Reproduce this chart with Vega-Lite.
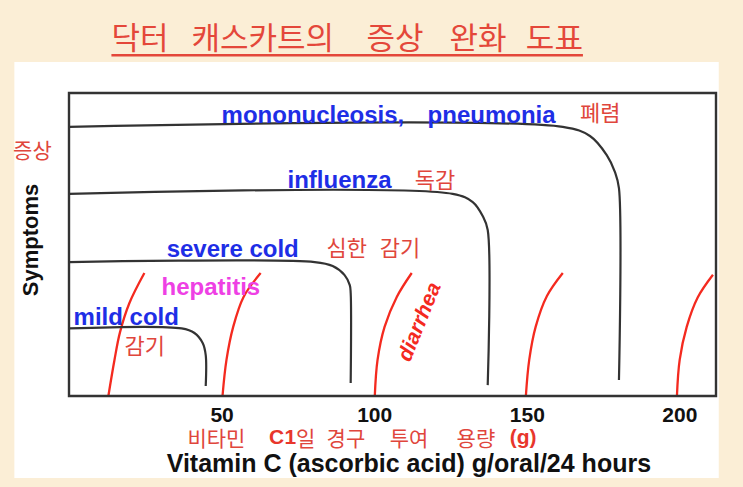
{
  "$schema": "https://vega.github.io/schema/vega-lite/v6.json",
  "width": 647,
  "height": 303,
  "autosize": {"type": "none"},
  "padding": {"left": 69, "top": 93, "right": 27, "bottom": 91},
  "background": "#FBEED6",
  "config": {"view": {"stroke": null}, "font": "Liberation Sans"},
  "datasets": {
    "lines": [
      {"series": "mono", "kind": "black", "o": 1, "x": 0, "y": 88.8},
      {"series": "mono", "kind": "black", "o": 2, "x": 161.8, "y": 88.8},
      {"series": "mono", "kind": "black", "o": 3, "x": 170.7, "y": 85.8},
      {"series": "mono", "kind": "black", "o": 4, "x": 176.2, "y": 79.5},
      {"series": "mono", "kind": "black", "o": 5, "x": 178.9, "y": 73.9},
      {"series": "mono", "kind": "black", "o": 6, "x": 180.2, "y": 68.6},
      {"series": "mono", "kind": "black", "o": 7, "x": 180.2, "y": 5.3},
      {"series": "flu", "kind": "black", "o": 1, "x": 0, "y": 66.7},
      {"series": "flu", "kind": "black", "o": 2, "x": 125.7, "y": 66.7},
      {"series": "flu", "kind": "black", "o": 3, "x": 132.3, "y": 64.0},
      {"series": "flu", "kind": "black", "o": 4, "x": 135.6, "y": 59.3},
      {"series": "flu", "kind": "black", "o": 5, "x": 137.2, "y": 54.8},
      {"series": "flu", "kind": "black", "o": 6, "x": 137.2, "y": 3.6},
      {"series": "severe", "kind": "black", "o": 1, "x": 0, "y": 44.2},
      {"series": "severe", "kind": "black", "o": 2, "x": 80.5, "y": 44.2},
      {"series": "severe", "kind": "black", "o": 3, "x": 86.4, "y": 42.9},
      {"series": "severe", "kind": "black", "o": 4, "x": 90.3, "y": 39.9},
      {"series": "severe", "kind": "black", "o": 5, "x": 92.0, "y": 36.6},
      {"series": "severe", "kind": "black", "o": 6, "x": 92.3, "y": 34.0},
      {"series": "severe", "kind": "black", "o": 7, "x": 92.3, "y": 4.3},
      {"series": "mild", "kind": "black", "o": 1, "x": 0, "y": 22.3},
      {"series": "mild", "kind": "black", "o": 2, "x": 36.9, "y": 22.3},
      {"series": "mild", "kind": "black", "o": 3, "x": 41.1, "y": 20.8},
      {"series": "mild", "kind": "black", "o": 4, "x": 43.8, "y": 17.5},
      {"series": "mild", "kind": "black", "o": 5, "x": 44.8, "y": 13.5},
      {"series": "mild", "kind": "black", "o": 6, "x": 44.8, "y": 3.3},
      {"series": "r1", "kind": "red", "o": 1, "x": 12.9, "y": 0},
      {"series": "r1", "kind": "red", "o": 2, "x": 14.9, "y": 11.9},
      {"series": "r1", "kind": "red", "o": 3, "x": 16.7, "y": 21.0},
      {"series": "r1", "kind": "red", "o": 4, "x": 19.8, "y": 30.7},
      {"series": "r1", "kind": "red", "o": 5, "x": 24.7, "y": 40.6},
      {"series": "r2", "kind": "red", "o": 1, "x": 50.3, "y": 0},
      {"series": "r2", "kind": "red", "o": 2, "x": 51.6, "y": 11.9},
      {"series": "r2", "kind": "red", "o": 3, "x": 53.8, "y": 22.8},
      {"series": "r2", "kind": "red", "o": 4, "x": 57.2, "y": 32.7},
      {"series": "r2", "kind": "red", "o": 5, "x": 62.8, "y": 40.6},
      {"series": "r3", "kind": "red", "o": 1, "x": 100.2, "y": 0},
      {"series": "r3", "kind": "red", "o": 2, "x": 101.1, "y": 11.9},
      {"series": "r3", "kind": "red", "o": 3, "x": 103.4, "y": 22.8},
      {"series": "r3", "kind": "red", "o": 4, "x": 107.4, "y": 32.7},
      {"series": "r3", "kind": "red", "o": 5, "x": 112.3, "y": 40.6},
      {"series": "r4", "kind": "red", "o": 1, "x": 149.7, "y": 0},
      {"series": "r4", "kind": "red", "o": 2, "x": 150.8, "y": 11.9},
      {"series": "r4", "kind": "red", "o": 3, "x": 152.9, "y": 22.8},
      {"series": "r4", "kind": "red", "o": 4, "x": 156.6, "y": 33.0},
      {"series": "r4", "kind": "red", "o": 5, "x": 161.8, "y": 40.6},
      {"series": "r5", "kind": "red", "o": 1, "x": 199.2, "y": 0},
      {"series": "r5", "kind": "red", "o": 2, "x": 200.1, "y": 11.9},
      {"series": "r5", "kind": "red", "o": 3, "x": 202.4, "y": 22.8},
      {"series": "r5", "kind": "red", "o": 4, "x": 206.0, "y": 32.5},
      {"series": "r5", "kind": "red", "o": 5, "x": 211.0, "y": 40.0}
    ],
    "labels": [
      {"g": "blue", "text": "mononucleosis,", "x": 50.0, "y": 90.1},
      {"g": "blue", "text": "pneumonia", "x": 117.5, "y": 90.1},
      {"g": "blue", "text": "influenza", "x": 71.6, "y": 68.6},
      {"g": "blue", "text": "severe cold", "x": 32.0, "y": 45.9},
      {"g": "blue", "text": "mild cold", "x": 1.5, "y": 23.4},
      {"g": "magenta", "text": "hepatitis", "x": 30.3, "y": 33.3},
      {"g": "kor", "text": "폐렴", "x": 167.4, "y": 90.8},
      {"g": "kor", "text": "독감", "x": 113.3, "y": 68.6},
      {"g": "kor", "text": "심한", "x": 84.4, "y": 46.2},
      {"g": "kor", "text": "감기", "x": 101.8, "y": 46.2},
      {"g": "kor", "text": "감기", "x": 18.2, "y": 13.9},
      {"g": "korAxis", "text": "비타민", "x": 38.8, "y": -16.6},
      {"g": "korAxis", "text": "일", "x": 74.4, "y": -16.6},
      {"g": "korAxis", "text": "경구", "x": 84.4, "y": -16.6},
      {"g": "korAxis", "text": "투여", "x": 105.1, "y": -16.6},
      {"g": "korAxis", "text": "용량", "x": 127.0, "y": -16.6},
      {"g": "korBold", "text": "C", "x": 65.5, "y": -16.0},
      {"g": "korBold", "text": "1", "x": 70.6, "y": -16.0},
      {"g": "korBold", "text": "(g)", "x": 144.4, "y": -16.0},
      {"g": "xtitle", "text": "Vitamin C (ascorbic acid) g/oral/24 hours", "x": 32.0, "y": -25.1},
      {"g": "korCenter", "text": "증상", "x": -12.0, "y": 80.5},
      {"g": "ytitle", "text": "Symptoms", "x": -12.3, "y": 51.5},
      {"g": "diarrhea", "text": "diarrhea", "x": 115.0, "y": 24.4},
      {"g": "title", "text": "닥터", "x": 13.9, "y": 117.5},
      {"g": "title", "text": "캐스카트의", "x": 40.1, "y": 117.5},
      {"g": "title", "text": "증상", "x": 97.5, "y": 117.5},
      {"g": "title", "text": "완화", "x": 124.7, "y": 117.5},
      {"g": "title", "text": "도표", "x": 149.7, "y": 117.5}
    ]
  },
  "layer": [
    {
      "data": {"values": [{"a": 1}]},
      "mark": {"type": "rect", "fill": "#FFFFFF"},
      "encoding": {
        "x": {"datum": -17.9, "type": "quantitative", "scale": {"domain": [0, 212], "nice": false, "zero": false}},
        "x2": {"datum": 212.9},
        "y": {"datum": 110.2, "type": "quantitative", "scale": {"domain": [0, 100], "nice": false, "zero": false}, "axis": null},
        "y2": {"datum": -27.1}
      }
    },
    {
      "data": {"name": "lines"},
      "transform": [{"filter": "datum.kind === 'red'"}],
      "mark": {"type": "line", "color": "#F42A1F", "strokeWidth": 2.3, "interpolate": "catmull-rom"},
      "encoding": {
        "x": {"field": "x", "type": "quantitative", "scale": {"domain": [0, 212], "nice": false, "zero": false},
          "axis": {"values": [50, 100, 150, 200], "title": null, "domain": false, "ticks": false, "tickSize": 0, "grid": false, "zindex": 2,
            "labelFont": "Liberation Sans", "labelFontWeight": "bold", "labelFontSize": 21, "labelColor": "#111111", "labelPadding": 8}},
        "y": {"field": "y", "type": "quantitative", "scale": {"domain": [0, 100], "nice": false, "zero": false}, "axis": null},
        "detail": {"field": "series"},
        "order": {"field": "o", "type": "quantitative"}
      }
    },
    {
      "data": {"name": "lines"},
      "transform": [{"filter": "datum.kind === 'black'"}],
      "mark": {"type": "line", "color": "#333333", "strokeWidth": 2.2, "interpolate": "catmull-rom"},
      "encoding": {
        "x": {"field": "x", "type": "quantitative"},
        "y": {"field": "y", "type": "quantitative"},
        "detail": {"field": "series"},
        "order": {"field": "o", "type": "quantitative"}
      }
    },
    {
      "data": {"values": [{"a": 1}]},
      "mark": {"type": "rect", "filled": false, "color": "#333333", "strokeWidth": 2.4},
      "encoding": {"x": {"datum": 0, "type": "quantitative"}, "x2": {"datum": 212}, "y": {"datum": 0, "type": "quantitative"}, "y2": {"datum": 100}}
    },
    {
      "data": {"values": [{"a": 1}]},
      "mark": {"type": "rule", "color": "#E4473A", "strokeWidth": 2.5},
      "encoding": {"x": {"datum": 13.9, "type": "quantitative"}, "x2": {"datum": 168.4}, "y": {"datum": 112.5, "type": "quantitative"}}
    },
    {
      "data": {"name": "labels"},
      "transform": [{"filter": "datum.g === 'blue'"}],
      "mark": {"type": "text", "font": "Liberation Sans", "fontWeight": "bold", "fontSize": 24, "color": "#1E2EE6", "align": "left", "baseline": "alphabetic"},
      "encoding": {"x": {"field": "x", "type": "quantitative"}, "y": {"field": "y", "type": "quantitative"}, "text": {"field": "text"}}
    },
    {
      "data": {"name": "labels"},
      "transform": [{"filter": "datum.g === 'magenta'"}],
      "mark": {"type": "text", "font": "Liberation Sans", "fontWeight": "bold", "fontSize": 24, "color": "#EE40E4", "align": "left", "baseline": "alphabetic"},
      "encoding": {"x": {"field": "x", "type": "quantitative"}, "y": {"field": "y", "type": "quantitative"}, "text": {"field": "text"}}
    },
    {
      "data": {"name": "labels"},
      "transform": [{"filter": "datum.g === 'kor'"}],
      "mark": {"type": "text", "font": "Noto Sans CJK KR", "fontSize": 22, "color": "#E0463C", "align": "left", "baseline": "alphabetic"},
      "encoding": {"x": {"field": "x", "type": "quantitative"}, "y": {"field": "y", "type": "quantitative"}, "text": {"field": "text"}}
    },
    {
      "data": {"name": "labels"},
      "transform": [{"filter": "datum.g === 'korAxis'"}],
      "mark": {"type": "text", "font": "Noto Sans CJK KR", "fontSize": 21, "color": "#E0463C", "align": "left", "baseline": "alphabetic"},
      "encoding": {"x": {"field": "x", "type": "quantitative"}, "y": {"field": "y", "type": "quantitative"}, "text": {"field": "text"}}
    },
    {
      "data": {"name": "labels"},
      "transform": [{"filter": "datum.g === 'korBold'"}],
      "mark": {"type": "text", "font": "Liberation Sans", "fontWeight": "bold", "fontSize": 21, "color": "#E8362C", "align": "left", "baseline": "alphabetic"},
      "encoding": {"x": {"field": "x", "type": "quantitative"}, "y": {"field": "y", "type": "quantitative"}, "text": {"field": "text"}}
    },
    {
      "data": {"name": "labels"},
      "transform": [{"filter": "datum.g === 'xtitle'"}],
      "mark": {"type": "text", "font": "Liberation Sans", "fontWeight": "bold", "fontSize": 25, "color": "#111111", "align": "left", "baseline": "alphabetic"},
      "encoding": {"x": {"field": "x", "type": "quantitative"}, "y": {"field": "y", "type": "quantitative"}, "text": {"field": "text"}}
    },
    {
      "data": {"name": "labels"},
      "transform": [{"filter": "datum.g === 'korCenter'"}],
      "mark": {"type": "text", "font": "Noto Sans CJK KR", "fontSize": 21, "color": "#E0463C", "align": "center", "baseline": "middle"},
      "encoding": {"x": {"field": "x", "type": "quantitative"}, "y": {"field": "y", "type": "quantitative"}, "text": {"field": "text"}}
    },
    {
      "data": {"name": "labels"},
      "transform": [{"filter": "datum.g === 'ytitle'"}],
      "mark": {"type": "text", "font": "Liberation Sans", "fontWeight": "bold", "fontSize": 22, "color": "#111111", "align": "center", "baseline": "middle", "angle": 270},
      "encoding": {"x": {"field": "x", "type": "quantitative"}, "y": {"field": "y", "type": "quantitative"}, "text": {"field": "text"}}
    },
    {
      "data": {"name": "labels"},
      "transform": [{"filter": "datum.g === 'diarrhea'"}],
      "mark": {"type": "text", "font": "Liberation Sans", "fontWeight": "bold", "fontStyle": "italic", "fontSize": 21, "color": "#F42A1F", "align": "center", "baseline": "middle", "angle": -68},
      "encoding": {"x": {"field": "x", "type": "quantitative"}, "y": {"field": "y", "type": "quantitative"}, "text": {"field": "text"}}
    },
    {
      "data": {"name": "labels"},
      "transform": [{"filter": "datum.g === 'title'"}],
      "mark": {"type": "text", "font": "Noto Sans CJK KR", "fontSize": 31, "color": "#E4473A", "align": "left", "baseline": "middle"},
      "encoding": {"x": {"field": "x", "type": "quantitative"}, "y": {"field": "y", "type": "quantitative"}, "text": {"field": "text"}}
    }
  ]
}
